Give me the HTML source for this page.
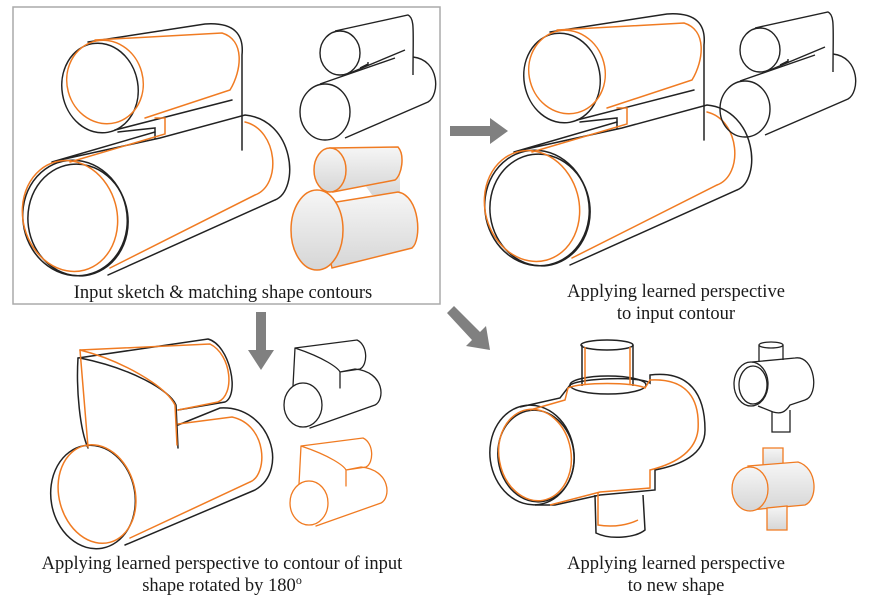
<!DOCTYPE html>
<html><head><meta charset="utf-8"><style>
body{margin:0;background:#fff;}
svg{display:block;}
text{font-family:"Liberation Serif",serif;font-size:18.5px;fill:#1a1a1a;}
</style></head><body>
<svg width="881" height="600" viewBox="0 0 881 600" xmlns="http://www.w3.org/2000/svg">
<defs>
<linearGradient id="gr" x1="0" y1="0" x2="0" y2="1"><stop offset="0" stop-color="#f6f6f6"/><stop offset="1" stop-color="#d6d6d6"/></linearGradient>
<g id="big" fill="none" stroke-linecap="round">
 <g stroke="#222" stroke-width="1.5">
  <ellipse cx="100" cy="88" rx="38" ry="45" transform="rotate(-10 100 88)"/>
  <path d="M88,42 L205,24 C235,22 244,35 242,55 L242,150"/>
  <path d="M115,130 L232,100"/>
  <path d="M118,132 L155,128 L155,138"/>
  <ellipse cx="75" cy="218" rx="52" ry="58" transform="rotate(-12 75 218)"/>
  <ellipse cx="78" cy="220" rx="50" ry="56" transform="rotate(-8 78 220)"/>
  <path d="M52,162 L155,132 M60,160 L160,138 L245,115 C295,120 300,190 275,200 L108,275"/>
 </g>
 <g stroke="#f07b22" stroke-width="1.5">
  <ellipse cx="105" cy="82" rx="38" ry="42" transform="rotate(-15 105 82)"/>
  <path d="M95,40 L222,33 C245,40 242,70 230,90 L145,118"/>
  <path d="M155,118 L165,118 L165,134 L70,162"/>
  <ellipse cx="70" cy="216" rx="47" ry="56" transform="rotate(-15 70 216)"/>
  <path d="M245,122 C278,130 282,185 255,195 L110,268"/>
 </g>
</g>
<g id="small" fill="none" stroke="#222" stroke-width="1.4">
 <ellipse cx="340" cy="53" rx="20" ry="22"/>
 <path d="M335,31 L408,15 C415,18 413,30 413,75 M350,73 L405,50 M360,68 L368,64 L368,62"/>
 <ellipse cx="325" cy="112" rx="25" ry="28"/>
 <path d="M320,84 L395,58 M413,57 C440,60 440,95 428,102 L345,138"/>
</g>
<g id="smallB" fill="none" stroke-width="1.3">
 <ellipse cx="303" cy="405" rx="19" ry="22"/>
 <path d="M295,348 L357,340 C368,345 368,365 360,369 L340,372 M295,348 C325,358 338,368 340,372 L340,388 M340,372 L355,369 C385,372 385,400 375,405 L310,428 M295,348 L293,386"/>
</g>
</defs>

<rect x="13" y="7" width="427" height="297" fill="none" stroke="#aaa" stroke-width="1.5"/>
<use href="#big"/>
<use href="#small"/>
<g stroke="#f07b22" stroke-width="1.5" fill="url(#gr)">
 <path d="M365,185 L372,195 L400,196 L400,160 Z" stroke="none"/>
 <path d="M330,148 L398,147 C405,155 402,175 395,180 L333,192 Z"/>
 <ellipse cx="330" cy="170" rx="16" ry="22"/>
 <path d="M318,205 L398,192 C420,196 422,240 412,248 L332,268 Z"/>
 <ellipse cx="317" cy="230" rx="26" ry="40"/>
</g>

<g transform="translate(462,-10)"><use href="#big"/></g>
<g transform="translate(420,-3)"><use href="#small"/></g>

<g fill="#808080">
 <path d="M450,126 L490,126 L490,118 L508,131 L490,144 L490,136 L450,136 Z"/>
 <path d="M256,312 L266,312 L266,350 L274,350 L261,370 L248,350 L256,350 Z"/>
 <path d="M447,313 L454,306 L480,332 L486,326 L490,350 L466,346 L472,340 Z"/>
</g>

<g fill="none" stroke-width="1.5" stroke-linecap="round">
 <g stroke="#222">
  <ellipse cx="93" cy="497" rx="42" ry="52" transform="rotate(-10 93 497)"/>
  <path d="M78,358 L208,339 C230,345 240,395 225,402 L178,410"/>
  <path d="M80,358 C130,368 170,390 176,405 L178,448"/>
  <path d="M78,358 C76,390 80,430 88,448"/>
  <path d="M178,425 L220,408 C270,405 290,470 255,490 L125,545"/>
 </g>
 <g stroke="#f07b22">
  <ellipse cx="97" cy="494" rx="38" ry="50" transform="rotate(-15 97 494)"/>
  <path d="M80,350 L210,344 C232,355 235,395 218,402 L178,410"/>
  <path d="M80,350 C120,360 165,385 175,405 L177,445"/>
  <path d="M80,350 L88,447"/>
  <path d="M178,424 L232,417 C268,425 268,475 250,482 L130,538"/>
 </g>
 <use href="#smallB" stroke="#222"/>
 <g transform="translate(6,98)"><use href="#smallB" stroke="#f07b22"/></g>
</g>

<g fill="none" stroke-width="1.5">
 <g stroke="#222">
  <ellipse cx="532" cy="455" rx="42" ry="50" transform="rotate(-8 532 455)"/>
  <ellipse cx="536" cy="456" rx="38" ry="46" transform="rotate(-8 536 456)"/>
  <path d="M520,407 L560,398 L570,385 C580,378 640,376 650,383 L650,375 C690,370 705,395 705,430 C705,455 680,465 655,470 L655,490 L600,495 L555,505 L535,505"/>
  <ellipse cx="608" cy="385" rx="38" ry="9"/>
  <path d="M582,345 L582,386 M633,345 L633,386"/>
  <ellipse cx="607" cy="345" rx="26" ry="5"/>
  <path d="M595,495 L596,533 C610,540 635,538 645,530 L643,495"/>
 </g>
 <g stroke="#f07b22">
  <ellipse cx="535" cy="455" rx="36" ry="46" transform="rotate(-10 535 455)"/>
  <path d="M530,410 L565,400 L568,388 C580,382 635,382 645,388 L650,380 C688,378 700,400 698,430 C695,455 670,465 650,470 L650,488 L600,492 L550,505"/>
  <path d="M585,347 L585,385 M630,347 L630,385 M598,493 L598,525 C615,528 630,524 638,520"/>
 </g>
 <g stroke="#222" stroke-width="1.3">
  <ellipse cx="751" cy="384" rx="17" ry="22"/>
  <ellipse cx="753" cy="385" rx="14" ry="19"/>
  <path d="M752,362 L795,358 C815,355 820,395 805,400 L790,405 C785,413 780,414 773,412 L758,406"/>
  <path d="M759,345 L759,362 M783,345 L783,360"/>
  <ellipse cx="771" cy="345" rx="12" ry="3"/>
  <path d="M772,412 L772,432 L790,432 L790,410"/>
 </g>
 <g stroke="#f07b22" stroke-width="1.3" fill="url(#gr)">
  <path d="M763,448 L763,470 L783,470 L783,448 Z"/>
  <path d="M748,466 L798,462 C818,468 818,500 805,505 L750,510 Z"/>
  <ellipse cx="750" cy="489" rx="18" ry="22"/>
  <path d="M767,508 L767,530 L787,530 L787,506 Z"/>
 </g>
</g>

<text x="223" y="298" text-anchor="middle">Input sketch &amp; matching shape contours</text>
<text x="676" y="297" text-anchor="middle">Applying learned perspective</text>
<text x="676" y="319" text-anchor="middle">to input contour</text>
<text x="222" y="569" text-anchor="middle">Applying learned perspective to contour of input</text>
<text x="222" y="591" text-anchor="middle">shape rotated by 180<tspan dy="-7" font-size="12">o</tspan></text>
<text x="676" y="569" text-anchor="middle">Applying learned perspective</text>
<text x="676" y="591" text-anchor="middle">to new shape</text>
</svg>
</body></html>
